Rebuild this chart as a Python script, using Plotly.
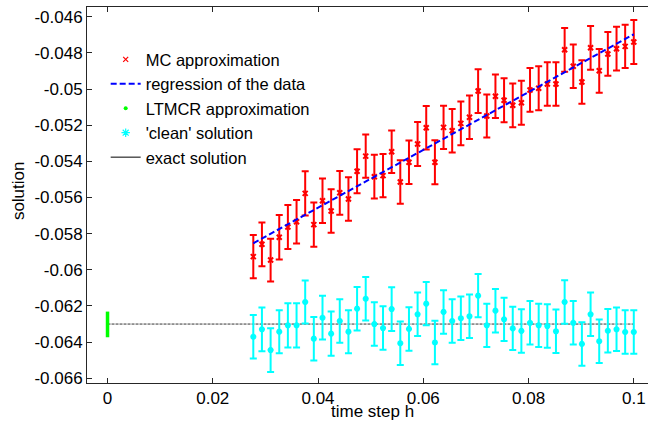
import plotly.graph_objects as go

# time steps h (shared by MC and clean series)
h = [0.02770, 0.02934, 0.03099, 0.03263, 0.03427, 0.03592, 0.03756, 0.03920, 0.04085,
     0.04249, 0.04413, 0.04578, 0.04742, 0.04906, 0.05070, 0.05235, 0.05399, 0.05563,
     0.05728, 0.05892, 0.06056, 0.06221, 0.06385, 0.06549, 0.06714, 0.06878, 0.07042,
     0.07207, 0.07371, 0.07535, 0.07700, 0.07864, 0.08028, 0.08193, 0.08357, 0.08521,
     0.08686, 0.08850, 0.09014, 0.09179, 0.09343, 0.09507, 0.09672, 0.09836, 0.10000]

mc_y = [-0.05927, -0.05859, -0.05946, -0.05820, -0.05763, -0.05734, -0.05577, -0.05750,
        -0.05618, -0.05675, -0.05574, -0.05608, -0.05455, -0.05371, -0.05485, -0.05479,
        -0.05347, -0.05514, -0.05405, -0.05304, -0.05214, -0.05405, -0.05212, -0.05231,
        -0.05190, -0.05156, -0.05011, -0.05149, -0.05040, -0.05062, -0.05090, -0.05076,
        -0.05005, -0.04996, -0.04972, -0.04972, -0.04783, -0.04874, -0.04961, -0.04772,
        -0.04899, -0.04806, -0.04777, -0.04764, -0.04740]
mc_err = [0.00120, 0.00121, 0.00118, 0.00123, 0.00122, 0.00120, 0.00122, 0.00122, 0.00123,
          0.00120, 0.00121, 0.00120, 0.00122, 0.00120, 0.00121, 0.00120, 0.00118, 0.00120,
          0.00120, 0.00122, 0.00120, 0.00122, 0.00120, 0.00120, 0.00121, 0.00120, 0.00121,
          0.00119, 0.00120, 0.00122, 0.00121, 0.00122, 0.00121, 0.00122, 0.00120, 0.00120,
          0.00121, 0.00120, 0.00120, 0.00121, 0.00121, 0.00121, 0.00121, 0.00120, 0.00122]

clean_y = [-0.06370, -0.06329, -0.06444, -0.06342, -0.06307, -0.06307, -0.06178, -0.06381,
           -0.06265, -0.06353, -0.06283, -0.06342, -0.06215, -0.06160, -0.06300, -0.06322,
           -0.06217, -0.06406, -0.06327, -0.06246, -0.06187, -0.06402, -0.06233, -0.06283,
           -0.06268, -0.06257, -0.06143, -0.06307, -0.06226, -0.06274, -0.06324, -0.06338,
           -0.06293, -0.06307, -0.06311, -0.06340, -0.06178, -0.06293, -0.06410, -0.06246,
           -0.06395, -0.06337, -0.06329, -0.06344, -0.06344]
clean_err = [0.00120, 0.00121, 0.00121, 0.00119, 0.00122, 0.00122, 0.00119, 0.00120, 0.00121,
             0.00122, 0.00120, 0.00119, 0.00120, 0.00120, 0.00120, 0.00120, 0.00121, 0.00120,
             0.00120, 0.00120, 0.00120, 0.00120, 0.00120, 0.00120, 0.00120, 0.00120, 0.00120,
             0.00120, 0.00120, 0.00120, 0.00120, 0.00120, 0.00120, 0.00120, 0.00120, 0.00120,
             0.00120, 0.00120, 0.00120, 0.00120, 0.00120, 0.00120, 0.00120, 0.00120, 0.00120]

reg_x = [0.0277, 0.1]
reg_y = [-0.05853, -0.04697]

ltmcr_x = [0.0]
ltmcr_y = [-0.06302]
ltmcr_err = [0.00071]

exact_x = [0.0, 0.1]
exact_y = [-0.0630, -0.0630]

x_ticks = [0, 0.02, 0.04, 0.06, 0.08, 0.1]
x_ticktext = ["0", "0.02", "0.04", "0.06", "0.08", "0.1"]
y_ticks = [-0.046, -0.048, -0.050, -0.052, -0.054, -0.056, -0.058, -0.060, -0.062, -0.064, -0.066]
y_ticktext = ["-0.046", "-0.048", "-0.05", "-0.052", "-0.054", "-0.056", "-0.058",
              "-0.06", "-0.062", "-0.064", "-0.066"]

RED = "#ff0000"
BLUE = "#0000ff"
GREEN = "#00ff00"
CYAN = "#00ffff"
FONT = "Liberation Sans, Arial, sans-serif"

fig = go.Figure()

# data traces (no legend)
fig.add_trace(go.Scatter(
    x=exact_x, y=exact_y, mode="lines", showlegend=False,
    line=dict(color="#333333", width=1, dash="3px,1px")))
fig.add_trace(go.Scatter(
    x=h, y=clean_y, mode="markers", showlegend=False,
    marker=dict(symbol="asterisk-open", size=5, color=CYAN, line=dict(color=CYAN, width=2)),
    error_y=dict(type="data", array=clean_err, color=CYAN, thickness=2, width=3.5)))
fig.add_trace(go.Scatter(
    x=h, y=mc_y, mode="markers", showlegend=False,
    marker=dict(symbol="x-thin-open", size=5, color=RED, line=dict(color=RED, width=2)),
    error_y=dict(type="data", array=mc_err, color=RED, thickness=2, width=3.5)))
fig.add_trace(go.Scatter(
    x=reg_x, y=reg_y, mode="lines", showlegend=False,
    line=dict(color=BLUE, width=2, dash="6px,3px")))
fig.add_trace(go.Scatter(
    x=ltmcr_x, y=ltmcr_y, mode="markers", showlegend=False,
    marker=dict(symbol="circle", size=3, color=GREEN),
    error_y=dict(type="data", array=ltmcr_err, color=GREEN, thickness=3.5, width=0)))

# legend-only traces
fig.add_trace(go.Scatter(
    x=[None], y=[None], mode="markers", name="MC approximation",
    marker=dict(symbol="x-thin-open", size=5, color=RED, line=dict(color=RED, width=1.2))))
fig.add_trace(go.Scatter(
    x=[None], y=[None], mode="lines", name="regression of the data",
    line=dict(color=BLUE, width=2, dash="6px,3px")))
fig.add_trace(go.Scatter(
    x=[None], y=[None], mode="markers", name="LTMCR approximation",
    marker=dict(symbol="circle", size=4, color=GREEN)))
fig.add_trace(go.Scatter(
    x=[None], y=[None], mode="markers", name="'clean' solution",
    marker=dict(symbol="asterisk-open", size=7, color=CYAN, line=dict(color=CYAN, width=1.2))))
fig.add_trace(go.Scatter(
    x=[None], y=[None], mode="lines", name="exact solution",
    line=dict(color="#000000", width=1)))

axis_common = dict(
    showgrid=False, zeroline=False, showline=True, linecolor="#262626", linewidth=1,
    ticks="inside", ticklen=5, tickcolor="#262626", tickwidth=1, automargin=False,
    ticklabeloverflow="allow",
    tickfont=dict(family=FONT, size=17, color="#000000"),
)

fig.update_layout(
    width=648, height=425, autosize=False,
    margin=dict(l=87, r=0, t=7, b=42, pad=0),
    paper_bgcolor="white", plot_bgcolor="white",
    font=dict(family=FONT, color="#000000"),
    xaxis=dict(range=[-0.0039, 0.1027], tickvals=x_ticks, ticktext=x_ticktext,
               mirror="ticks", **axis_common),
    yaxis=dict(range=[-0.06626, -0.045463], tickvals=y_ticks, ticktext=y_ticktext,
               mirror=False, **axis_common),
    legend=dict(x=0.0333, y=0.9066, xanchor="left", yanchor="top",
                bgcolor="rgba(0,0,0,0)", borderwidth=0,
                font=dict(family=FONT, size=16.5, color="#000000")),
    annotations=[
        dict(text="time step h", xref="paper", yref="paper", x=0.5098, y=-0.0745,
             xanchor="center", yanchor="middle", showarrow=False,
             font=dict(family=FONT, size=17, color="#000000")),
        dict(text="solution", xref="paper", yref="paper", x=-0.123, y=0.513,
             xanchor="center", yanchor="middle", showarrow=False, textangle=-90,
             font=dict(family=FONT, size=17, color="#000000")),
    ],
)

# remove the default 8px page margin so the 648x425 figure fills the window exactly
fig.write_html("out.html", config={"displayModeBar": False},
               post_script="document.body.style.margin='0';document.body.style.overflow='hidden';")
